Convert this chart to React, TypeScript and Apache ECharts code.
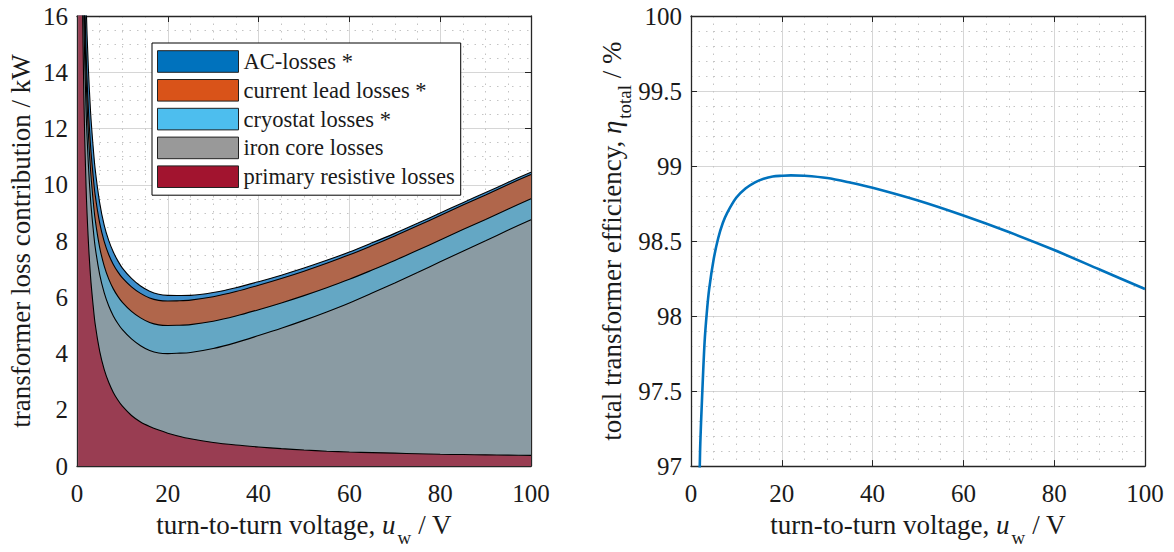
import React, { useEffect, useRef } from "react";
import * as echarts from "echarts";

// turn-to-turn voltage samples (V)
const uw = [0.25, 0.5, 1, 1.5, 2, 2.5, 3, 3.5, 4, 5, 6, 7, 8, 9, 10, 12, 14, 16, 18, 20, 22, 25, 30, 35, 40, 45, 50, 55, 60, 65, 70, 75, 80, 85, 90, 95, 100];
// loss contributions (kW)
const primaryLoss = [78, 39, 19.7, 13.2, 9.9, 8.0, 6.7, 5.8, 5.05, 4.08, 3.43, 2.97, 2.62, 2.35, 2.13, 1.8, 1.57, 1.41, 1.28, 1.17, 1.08, 0.97, 0.84, 0.75, 0.68, 0.62, 0.57, 0.53, 0.5, 0.48, 0.46, 0.44, 0.42, 0.41, 0.4, 0.39, 0.38];
const ironLoss = [2.8, 2.78, 2.76, 2.75, 2.75, 2.74, 2.74, 2.74, 2.74, 2.73, 2.73, 2.72, 2.72, 2.72, 2.72, 2.72, 2.71, 2.7, 2.74, 2.83, 2.93, 3.07, 3.34, 3.64, 3.96, 4.28, 4.61, 4.95, 5.3, 5.67, 6.05, 6.44, 6.84, 7.23, 7.61, 8.0, 8.38];
const cryoLoss = [2.2, 1.9, 1.6, 1.35, 1.2, 1.1, 1.05, 1.0, 0.98, 0.96, 0.95, 0.955, 0.96, 0.965, 0.97, 0.98, 0.99, 0.995, 1.0, 1.0, 0.995, 0.99, 0.97, 0.945, 0.92, 0.9, 0.88, 0.86, 0.84, 0.82, 0.8, 0.79, 0.78, 0.77, 0.76, 0.75, 0.74];
const leadLoss = [0.87, 0.87, 0.87, 0.87, 0.87, 0.87, 0.87, 0.87, 0.87, 0.87, 0.87, 0.87, 0.87, 0.87, 0.87, 0.87, 0.87, 0.87, 0.87, 0.87, 0.87, 0.87, 0.87, 0.87, 0.87, 0.87, 0.87, 0.87, 0.87, 0.87, 0.87, 0.87, 0.87, 0.87, 0.87, 0.87, 0.87];
const acLoss = [13, 6.8, 3.4, 2.3, 1.75, 1.45, 1.2, 1.05, 0.92, 0.72, 0.58, 0.5, 0.44, 0.39, 0.35, 0.3, 0.26, 0.24, 0.22, 0.2, 0.19, 0.17, 0.15, 0.136, 0.125, 0.117, 0.11, 0.105, 0.1, 0.096, 0.093, 0.09, 0.088, 0.085, 0.083, 0.082, 0.08];

// efficiency curve
const effUw = [1.5, 2, 2.5, 3, 3.5, 4, 5, 6, 7, 8, 10, 12, 14, 16, 18, 20, 22, 25, 30, 35, 40, 50, 60, 70, 80, 90, 100];
const effTotal = [96.3, 97.1, 97.5, 97.83, 98.03, 98.18, 98.38, 98.52, 98.62, 98.69, 98.79, 98.85, 98.89, 98.915, 98.93, 98.935, 98.938, 98.935, 98.92, 98.89, 98.855, 98.77, 98.67, 98.56, 98.44, 98.31, 98.18];

// bottom-to-top stacking order
const lossNames = ["primary resistive losses", "iron core losses", "cryostat losses *", "current lead losses *", "AC-losses *"];
const lossValues = [primaryLoss, ironLoss, cryoLoss, leadLoss, acLoss];
const legendColors = ["#a2142f", "#999999", "#4dbeee", "#d95319", "#0072bd"];
const fillColors = ["#993d52", "#8a9ba3", "#64a7c4", "#b0664b", "#3e8ecb"];

const FONT = "Liberation Serif";

export default function App() {
  const ref = useRef<HTMLDivElement>(null);
  useEffect(() => {
    document.body.style.margin = "0";
    const chart = echarts.init(ref.current!, null, { renderer: "svg" });
    const axisCommon = (extra: any) => ({
      type: "value",
      axisLine: { show: true, onZero: false, lineStyle: { color: "#262626", width: 1.3 } },
      axisTick: { show: true, inside: true, length: 6, lineStyle: { color: "#262626" } },
      ...extra,
    });
    const labelStyle = { fontFamily: FONT, fontSize: 25, color: "#1a1a1a" };
    const mkRich = (fs: number, ss: number, drop: number) => ({
      n: { fontFamily: FONT, fontSize: fs, color: "#1a1a1a", lineHeight: fs, padding: [0, 0, drop, 0], verticalAlign: "bottom" },
      i: { fontFamily: FONT, fontSize: fs, color: "#1a1a1a", fontStyle: "italic", lineHeight: fs, padding: [0, 2, drop, 0], verticalAlign: "bottom" },
      s: { fontFamily: FONT, fontSize: ss, color: "#1a1a1a", lineHeight: ss, verticalAlign: "bottom" },
    });
    const majorSplit = { show: true, lineStyle: { color: "#d6d6d6", width: 1 } };
    const minorSplit = { show: true, lineStyle: { color: "#c4c4c4", width: 1, type: [1.5, 6] } };
    const xName = "{n|turn-to-turn voltage, }{i|u}{s|w}{n| / V}";

    const xAxes = [0, 1].flatMap((g) => [
      axisCommon({
        gridIndex: g, position: "bottom", min: 0, max: 100, interval: 20,
        axisLabel: { ...labelStyle, margin: 15 },
        splitLine: majorSplit,
        minorTick: { show: false, splitNumber: 4 },
        minorSplitLine: minorSplit,
        name: xName, nameLocation: "middle", nameGap: 52,
        nameTextStyle: { fontFamily: FONT, rich: mkRich(27, 19, 9) },
      }),
      axisCommon({
        gridIndex: g, position: "top", min: 0, max: 100, interval: 20,
        axisLabel: { show: false }, splitLine: { show: false },
      }),
    ]);
    const yAxes = [
      axisCommon({
        gridIndex: 0, position: "left", min: 0, max: 16, interval: 2,
        axisLabel: { ...labelStyle, margin: 9 },
        splitLine: majorSplit,
        minorTick: { show: false, splitNumber: 4 },
        minorSplitLine: minorSplit,
        name: "{n|transformer loss contribution / kW}", nameLocation: "middle", nameGap: 43,
        nameTextStyle: { fontFamily: FONT, rich: mkRich(27, 19, 0) },
      }),
      axisCommon({
        gridIndex: 0, position: "right", min: 0, max: 16, interval: 2,
        axisLabel: { show: false }, splitLine: { show: false },
      }),
      axisCommon({
        gridIndex: 1, position: "left", min: 97, max: 100, interval: 0.5,
        axisLabel: { ...labelStyle, margin: 9, formatter: (v: number) => String(Math.round(v * 10) / 10) },
        splitLine: majorSplit,
        minorTick: { show: false, splitNumber: 5 },
        minorSplitLine: minorSplit,
        name: "{n|total transformer efficiency, }{i|η}{s|total}{n| / %}", nameLocation: "middle", nameGap: 57,
        nameTextStyle: { fontFamily: FONT, rich: mkRich(27, 19, 9) },
      }),
      axisCommon({
        gridIndex: 1, position: "right", min: 97, max: 100, interval: 0.5,
        axisLabel: { show: false }, splitLine: { show: false },
      }),
    ];

    // cumulative tops of each stacked layer
    const cumulative: number[][] = [];
    lossValues.forEach((vals, k) => {
      cumulative.push(vals.map((v, i) => v + (k > 0 ? cumulative[k - 1][i] : 0)));
    });

    // draw from the top layer down so lower layers paint over upper fills
    const lossSeries = [4, 3, 2, 1, 0].map((k) => ({
      name: lossNames[k],
      type: "line",
      xAxisIndex: 0,
      yAxisIndex: 0,
      showSymbol: false,
      symbol: "none",
      clip: true,
      smooth: 0.3,
      data: uw.map((x, i) => [x, cumulative[k][i]]),
      lineStyle: { color: "#000", width: 1.1 },
      itemStyle: { color: legendColors[k] },
      areaStyle: { color: fillColors[k], opacity: 1, origin: "start" },
    }));

    chart.setOption({
      animation: false,
      backgroundColor: "#fff",
      textStyle: { fontFamily: FONT },
      grid: [
        { left: 77, top: 16, width: 454, height: 453 },
        { left: 691, top: 16, width: 454, height: 453 },
      ],
      xAxis: xAxes,
      yAxis: yAxes,
      legend: {
        z: 20,
        orient: "vertical",
        left: 152,
        top: 43,
        icon: "rect",
        itemWidth: 81,
        itemHeight: 21.6,
        itemGap: 5.8,
        padding: [7, 6, 7, 5],
        backgroundColor: "#fff",
        borderColor: "#000",
        borderWidth: 1,
        selectedMode: false,
        textStyle: { fontFamily: FONT, fontSize: 22.5, lineHeight: 21, color: "#1a1a1a" },
        data: [4, 3, 2, 1, 0].map((k) => ({
          name: lossNames[k],
          itemStyle: { color: legendColors[k], borderColor: "#222", borderWidth: 1 },
        })),
      },
      series: [
        ...lossSeries,
        {
          name: "efficiency",
          type: "line",
          xAxisIndex: 2,
          yAxisIndex: 2,
          showSymbol: false,
          symbol: "none",
          clip: true,
          smooth: 0.3,
          data: effUw.map((x, i) => [x, effTotal[i]]),
          lineStyle: { color: "#0072bd", width: 2.6 },
          itemStyle: { color: "#0072bd" },
        },
      ],
    });
    return () => chart.dispose();
  }, []);
  return <div ref={ref} style={{ width: 1174, height: 552 }} />;
}
